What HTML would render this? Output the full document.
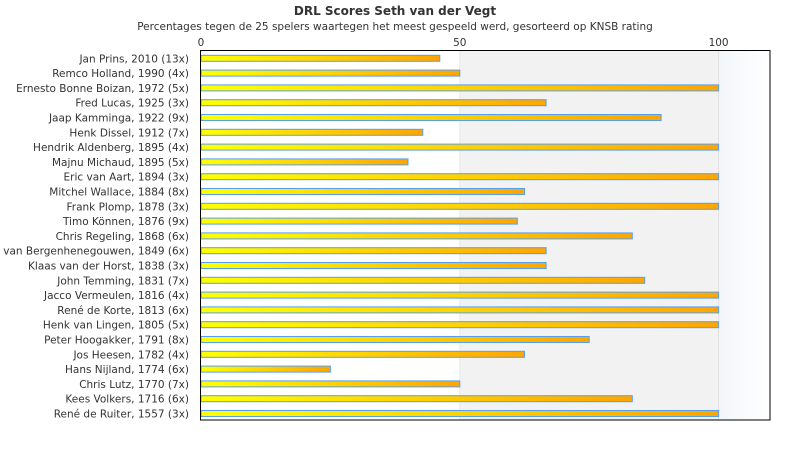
<!DOCTYPE html>
<html><head><meta charset="utf-8"><style>
html,body{margin:0;padding:0;background:#fff;}
svg{display:block;font-family:"DejaVu Sans","Liberation Sans",sans-serif;}
text{fill:#333;}
</style></head><body>
<svg width="790" height="450" viewBox="0 0 790 450" xmlns="http://www.w3.org/2000/svg">
<defs>
<linearGradient id="bar" x1="0" x2="1" y1="0" y2="0"><stop offset="0" stop-color="#ffff00"/><stop offset="1" stop-color="#ffa500"/></linearGradient>
<linearGradient id="bg3" x1="0" x2="1" y1="0" y2="0"><stop offset="0" stop-color="#f3f6fa"/><stop offset="1" stop-color="#ffffff"/></linearGradient>
</defs>
<text x="395" y="15" text-anchor="middle" font-size="12" font-weight="bold">DRL Scores Seth van der Vegt</text>
<text x="395" y="30" text-anchor="middle" font-size="10.5">Percentages tegen de 25 spelers waartegen het meest gespeeld werd, gesorteerd op KNSB rating</text>
<rect x="459.8" y="50.5" width="258.8" height="369.5" fill="#f2f2f2"/>
<rect x="718.6" y="50.5" width="51.4" height="369.5" fill="url(#bg3)"/>
<line x1="718.6" y1="50.5" x2="718.6" y2="420" stroke="#e0e0e0"/>
<line x1="459.8" y1="50.5" x2="459.8" y2="420" stroke="#e8e8e8"/>
<g font-size="10.5" text-anchor="middle">
<text x="201" y="46">0</text><text x="459.8" y="46">50</text><text x="718.6" y="46">100</text>
</g>
<g font-size="10.5" text-anchor="end" stroke="#55a0ee" stroke-width="1">
<g transform="translate(0,55.3)"><rect x="201" y="0" width="238.8" height="6" fill="url(#bar)"/><text x="189" y="7" stroke="none">Jan Prins, 2010 (13x)</text></g>
<g transform="translate(0,70.1)"><rect x="201" y="0" width="258.8" height="6" fill="url(#bar)"/><text x="189" y="7" stroke="none">Remco Holland, 1990 (4x)</text></g>
<g transform="translate(0,84.9)"><rect x="201" y="0" width="517.6" height="6" fill="url(#bar)"/><text x="189" y="7" stroke="none">Ernesto Bonne Boizan, 1972 (5x)</text></g>
<g transform="translate(0,99.7)"><rect x="201" y="0" width="345.1" height="6" fill="url(#bar)"/><text x="189" y="7" stroke="none">Fred Lucas, 1925 (3x)</text></g>
<g transform="translate(0,114.5)"><rect x="201" y="0" width="460.1" height="6" fill="url(#bar)"/><text x="189" y="7" stroke="none">Jaap Kamminga, 1922 (9x)</text></g>
<g transform="translate(0,129.3)"><rect x="201" y="0" width="221.8" height="6" fill="url(#bar)"/><text x="189" y="7" stroke="none">Henk Dissel, 1912 (7x)</text></g>
<g transform="translate(0,144.1)"><rect x="201" y="0" width="517.6" height="6" fill="url(#bar)"/><text x="189" y="7" stroke="none">Hendrik Aldenberg, 1895 (4x)</text></g>
<g transform="translate(0,158.9)"><rect x="201" y="0" width="207" height="6" fill="url(#bar)"/><text x="189" y="7" stroke="none">Majnu Michaud, 1895 (5x)</text></g>
<g transform="translate(0,173.7)"><rect x="201" y="0" width="517.6" height="6" fill="url(#bar)"/><text x="189" y="7" stroke="none">Eric van Aart, 1894 (3x)</text></g>
<g transform="translate(0,188.5)"><rect x="201" y="0" width="323.5" height="6" fill="url(#bar)"/><text x="189" y="7" stroke="none">Mitchel Wallace, 1884 (8x)</text></g>
<g transform="translate(0,203.3)"><rect x="201" y="0" width="517.6" height="6" fill="url(#bar)"/><text x="189" y="7" stroke="none">Frank Plomp, 1878 (3x)</text></g>
<g transform="translate(0,218.1)"><rect x="201" y="0" width="316.3" height="6" fill="url(#bar)"/><text x="189" y="7" stroke="none">Timo Können, 1876 (9x)</text></g>
<g transform="translate(0,232.9)"><rect x="201" y="0" width="431.3" height="6" fill="url(#bar)"/><text x="189" y="7" stroke="none">Chris Regeling, 1868 (6x)</text></g>
<g transform="translate(0,247.7)"><rect x="201" y="0" width="345.1" height="6" fill="url(#bar)"/><text x="189" y="7" stroke="none">van Bergenhenegouwen, 1849 (6x)</text></g>
<g transform="translate(0,262.5)"><rect x="201" y="0" width="345.1" height="6" fill="url(#bar)"/><text x="189" y="7" stroke="none">Klaas van der Horst, 1838 (3x)</text></g>
<g transform="translate(0,277.3)"><rect x="201" y="0" width="443.7" height="6" fill="url(#bar)"/><text x="189" y="7" stroke="none">John Temming, 1831 (7x)</text></g>
<g transform="translate(0,292.1)"><rect x="201" y="0" width="517.6" height="6" fill="url(#bar)"/><text x="189" y="7" stroke="none">Jacco Vermeulen, 1816 (4x)</text></g>
<g transform="translate(0,306.9)"><rect x="201" y="0" width="517.6" height="6" fill="url(#bar)"/><text x="189" y="7" stroke="none">René de Korte, 1813 (6x)</text></g>
<g transform="translate(0,321.7)"><rect x="201" y="0" width="517.6" height="6" fill="url(#bar)"/><text x="189" y="7" stroke="none">Henk van Lingen, 1805 (5x)</text></g>
<g transform="translate(0,336.5)"><rect x="201" y="0" width="388.2" height="6" fill="url(#bar)"/><text x="189" y="7" stroke="none">Peter Hoogakker, 1791 (8x)</text></g>
<g transform="translate(0,351.3)"><rect x="201" y="0" width="323.5" height="6" fill="url(#bar)"/><text x="189" y="7" stroke="none">Jos Heesen, 1782 (4x)</text></g>
<g transform="translate(0,366.1)"><rect x="201" y="0" width="129.4" height="6" fill="url(#bar)"/><text x="189" y="7" stroke="none">Hans Nijland, 1774 (6x)</text></g>
<g transform="translate(0,380.9)"><rect x="201" y="0" width="258.8" height="6" fill="url(#bar)"/><text x="189" y="7" stroke="none">Chris Lutz, 1770 (7x)</text></g>
<g transform="translate(0,395.7)"><rect x="201" y="0" width="431.3" height="6" fill="url(#bar)"/><text x="189" y="7" stroke="none">Kees Volkers, 1716 (6x)</text></g>
<g transform="translate(0,410.5)"><rect x="201" y="0" width="517.6" height="6" fill="url(#bar)"/><text x="189" y="7" stroke="none">René de Ruiter, 1557 (3x)</text></g>
</g>
<rect x="200.5" y="50.5" width="569.5" height="369.5" fill="none" stroke="#000" stroke-width="1"/>
</svg>
</body></html>
